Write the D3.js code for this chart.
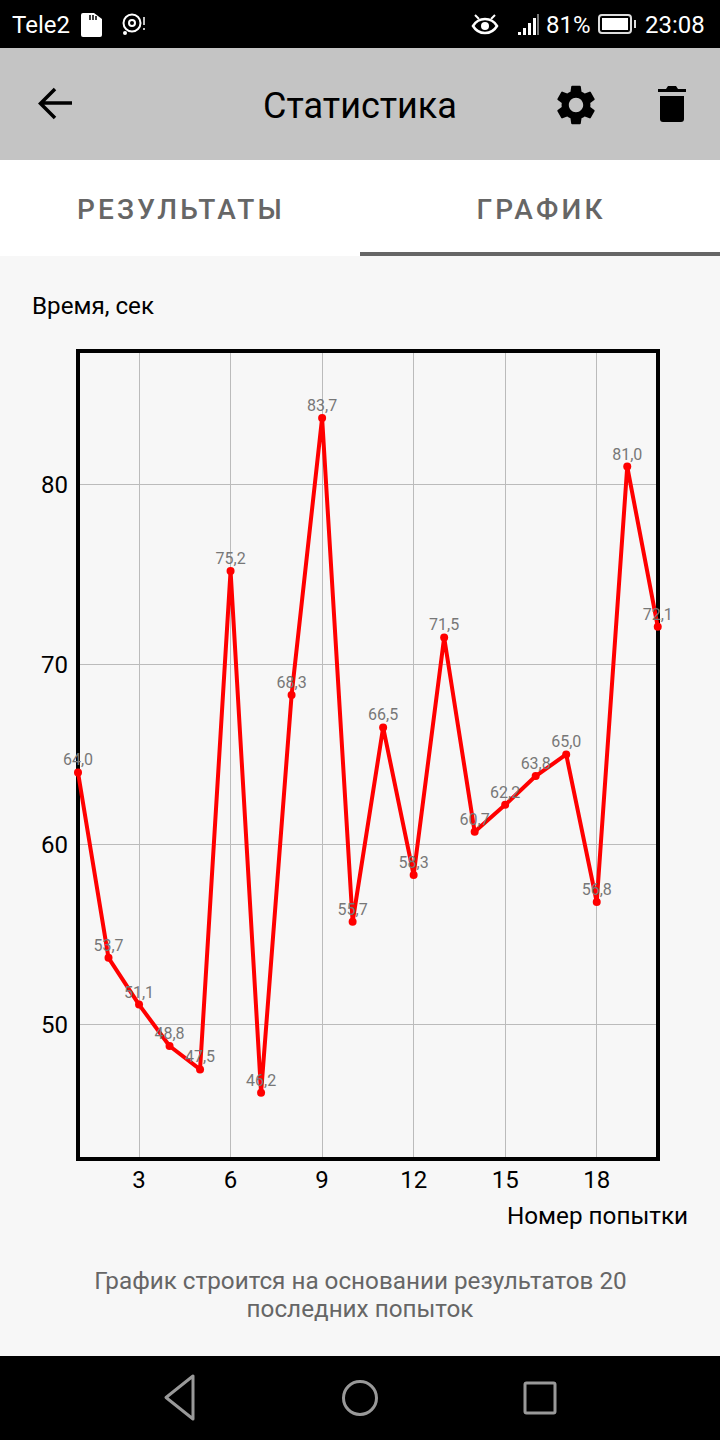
<!DOCTYPE html>
<html>
<head>
<meta charset="utf-8">
<script src="https://cdn.jsdelivr.net/npm/d3@7/dist/d3.min.js"></script>
<style>
  html, body { margin: 0; padding: 0; background: #f7f7f7; }
  svg { display: block; font-family: Roboto, sans-serif; }
</style>
</head>
<body>
<svg id="screen" width="720" height="1440"></svg>
<script>
const attempts = d3.range(1, 21);
const times = [64.0, 53.7, 51.1, 48.8, 47.5, 75.2, 46.2, 68.3, 83.7, 55.7, 66.5, 58.3, 71.5, 60.7, 62.2, 63.8, 65.0, 56.8, 81.0, 72.1];
const xTicks = [3, 6, 9, 12, 15, 18];
const yTicks = [50, 60, 70, 80];
const tabs = ["РЕЗУЛЬТАТЫ", "ГРАФИК"];

const plotLeft = 78, plotRight = 658, plotTop = 351, plotBottom = 1159;

const svg = d3.select("#screen");

// ---- app chrome
svg.append("rect").attr("width", 720).attr("height", 48).attr("fill", "#000");
svg.append("rect").attr("y", 48).attr("width", 720).attr("height", 112).attr("fill", "#c4c4c4");
svg.append("rect").attr("y", 160).attr("width", 720).attr("height", 96).attr("fill", "#fff");
svg.append("rect").attr("x", 360).attr("y", 252).attr("width", 360).attr("height", 4).attr("fill", "#666");
svg.append("rect").attr("y", 1356).attr("width", 720).attr("height", 84).attr("fill", "#000");

const label = (x, y, t, size, fill, anchor) => svg.append("text")
  .attr("x", x).attr("y", y).attr("font-size", size).attr("fill", fill)
  .attr("text-anchor", anchor || "start").text(t);

// status bar
label(12, 33, "Tele2", 24, "#fff");
label(546, 33, "81%", 24, "#fff");
label(645, 33, "23:08", 24, "#fff");
svg.append("path").attr("d", "M83 13h11l8 6v16a2 2 0 0 1-2 2H83a2 2 0 0 1-2-2V15a2 2 0 0 1 2-2z").attr("fill", "#fff");
svg.append("path").attr("d", "M90 15v5M93 15v5M96 16v4").attr("stroke", "#000").attr("stroke-width", 1.5);
svg.append("circle").attr("cx", 132).attr("cy", 23).attr("r", 8.5).attr("fill", "none").attr("stroke", "#fff").attr("stroke-width", 2);
svg.append("circle").attr("cx", 132).attr("cy", 23).attr("r", 3).attr("fill", "none").attr("stroke", "#fff").attr("stroke-width", 2);
svg.append("circle").attr("cx", 125).attr("cy", 33).attr("r", 2).attr("fill", "#fff");
svg.append("path").attr("d", "M144 17v8M144 28v2").attr("stroke", "#fff").attr("stroke-width", 1.5);
// eye
svg.append("path").attr("d", "M473 26c3-5 7-7 12-7s9 2 12 7c-3 5-7 7-12 7s-9-2-12-7z").attr("fill", "none").attr("stroke", "#fff").attr("stroke-width", 2.5);
svg.append("circle").attr("cx", 485).attr("cy", 26).attr("r", 4).attr("fill", "#fff");
svg.append("path").attr("d", "M475 15l4 4M495 15l-4 4").attr("stroke", "#fff").attr("stroke-width", 2);
// signal
[[518, 32, 3], [523, 28, 7], [528, 23, 12], [533, 18, 17]].forEach(b => {
  svg.append("rect").attr("x", b[0]).attr("y", b[1]).attr("width", 3).attr("height", b[2]).attr("fill", "#fff");
});
svg.append("rect").attr("x", 537).attr("y", 14).attr("width", 2).attr("height", 21).attr("fill", "#777");
// battery
svg.append("rect").attr("x", 599).attr("y", 15).attr("width", 32).attr("height", 18).attr("rx", 3).attr("fill", "none").attr("stroke", "#ddd").attr("stroke-width", 2);
svg.append("rect").attr("x", 602).attr("y", 18).attr("width", 26).attr("height", 12).attr("fill", "#fff");
svg.append("rect").attr("x", 634).attr("y", 20).attr("width", 2).attr("height", 8).attr("fill", "#ddd");

// toolbar
svg.append("path").attr("d", "M72 103H42M55 89L40.500 103.500L55 118").attr("fill", "none").attr("stroke", "#000").attr("stroke-width", 3.5);
label(360, 118, "Статистика", 36, "#000", "middle");
svg.append("path")
  .attr("transform", "translate(552,81) scale(2)")
  .attr("d", "M19.14 12.94c.04-.3.06-.61.06-.94 0-.32-.02-.64-.07-.94l2.03-1.58a.49.49 0 0 0 .12-.61l-1.92-3.32a.488.488 0 0 0-.59-.22l-2.39.96c-.5-.38-1.03-.7-1.62-.94l-.36-2.54a.484.484 0 0 0-.48-.41h-3.84c-.24 0-.43.17-.47.41l-.36 2.54c-.59.24-1.13.57-1.62.94l-2.39-.96c-.22-.08-.47 0-.59.22L2.74 8.87c-.12.21-.08.47.12.61l2.03 1.58c-.05.3-.09.63-.09.94s.02.64.07.94l-2.03 1.58a.49.49 0 0 0-.12.61l1.92 3.32c.12.22.37.29.59.22l2.39-.96c.5.38 1.03.7 1.62.94l.36 2.54c.05.24.24.41.48.41h3.84c.24 0 .44-.17.47-.41l.36-2.54c.59-.24 1.13-.56 1.62-.94l2.39.96c.22.08.47 0 .59-.22l1.92-3.32c.12-.22.07-.47-.12-.61l-2.01-1.58zM12 15.600c-1.980 0-3.600-1.620-3.600-3.600s1.620-3.600 3.600-3.600 3.600 1.620 3.600 3.600-1.620 3.600-3.600 3.600z")
  .attr("fill", "#000");
svg.append("path").attr("d", "M660 96h24v23a3 3 0 0 1-3 3h-18a3 3 0 0 1-3-3z").attr("fill", "#000");
svg.append("path").attr("d", "M658 89h8l2-3h8l2 3h8v3h-28z").attr("fill", "#000");

// tabs
svg.selectAll("text.tab").data(tabs).join("text")
  .attr("class", "tab")
  .attr("x", (d, i) => 181 + i * 360).attr("y", 219)
  .attr("text-anchor", "middle").attr("font-size", 28).attr("font-weight", 500)
  .attr("letter-spacing", 3.2).attr("fill", "#666").text(d => d);

// nav bar
svg.append("path").attr("d", "M193 1376v43l-27-21.500z").attr("fill", "none").attr("stroke", "#999").attr("stroke-width", 3).attr("stroke-linejoin", "round");
svg.append("circle").attr("cx", 360).attr("cy", 1398).attr("r", 16.500).attr("fill", "none").attr("stroke", "#999").attr("stroke-width", 3);
svg.append("rect").attr("x", 525).attr("y", 1383).attr("width", 30).attr("height", 30).attr("rx", 1.500).attr("fill", "none").attr("stroke", "#999").attr("stroke-width", 3);

// ---- chart
const x = d3.scaleLinear().domain([1, 20]).range([plotLeft, plotRight - 0.25]);
const y = d3.scaleLinear().domain([42.52, 87.42]).range([plotBottom, plotTop]);

// snap grid lines to the pixel so they stay 1px
const crisp = v => Math.floor(v) + 0.5;

const grid = svg.append("g");
grid.selectAll("line.v").data(xTicks).join("line")
  .attr("class", "v").attr("x1", d => crisp(x(d))).attr("x2", d => crisp(x(d))).attr("y1", plotTop).attr("y2", plotBottom);
grid.selectAll("line.h").data(yTicks).join("line")
  .attr("class", "h").attr("x1", plotLeft).attr("x2", plotRight).attr("y1", d => crisp(y(d))).attr("y2", d => crisp(y(d)));
grid.selectAll("line").attr("stroke", "#bbb").attr("stroke-width", 1);

const xAxis = svg.append("g").attr("transform", `translate(-0.5,${plotBottom})`)
  .call(d3.axisBottom(x).tickValues(xTicks).tickSize(0).tickPadding(12));
const yAxis = svg.append("g").attr("transform", `translate(${plotLeft},0)`)
  .call(d3.axisLeft(y).tickValues(yTicks).tickSize(0).tickPadding(10));
[xAxis, yAxis].forEach(a => {
  a.select(".domain").remove();
  a.selectAll("text").attr("font-size", 24).attr("font-family", "Roboto, sans-serif").attr("fill", "#000");
});

svg.append("rect").attr("x", plotLeft).attr("y", plotTop).attr("width", plotRight - plotLeft).attr("height", plotBottom - plotTop)
  .attr("fill", "none").attr("stroke", "#000").attr("stroke-width", 4);

const line = d3.line().x((d, i) => x(attempts[i])).y(d => y(d));
svg.append("path").datum(times).attr("d", line)
  .attr("fill", "none").attr("stroke", "#ff0000").attr("stroke-width", 4).attr("stroke-linejoin", "round");

svg.selectAll("circle.pt").data(times).join("circle")
  .attr("class", "pt").attr("cx", (d, i) => x(attempts[i])).attr("cy", d => y(d))
  .attr("r", 4).attr("fill", "#ff0000");

svg.selectAll("text.val").data(times).join("text")
  .attr("class", "val").attr("x", (d, i) => x(attempts[i])).attr("y", d => y(d) - 7)
  .attr("text-anchor", "middle").attr("font-size", 16).attr("fill", "#777")
  .text(d => d.toFixed(1).replace(".", ","));

label(32, 314, "Время, сек", 24.2, "#000");
label(688, 1224, "Номер попытки", 24.25, "#000", "end");
label(360.5, 1289, "График строится на основании результатов 20", 24.25, "#666", "middle");
label(360, 1317, "последних попыток", 24.25, "#666", "middle");
</script>
</body>
</html>
